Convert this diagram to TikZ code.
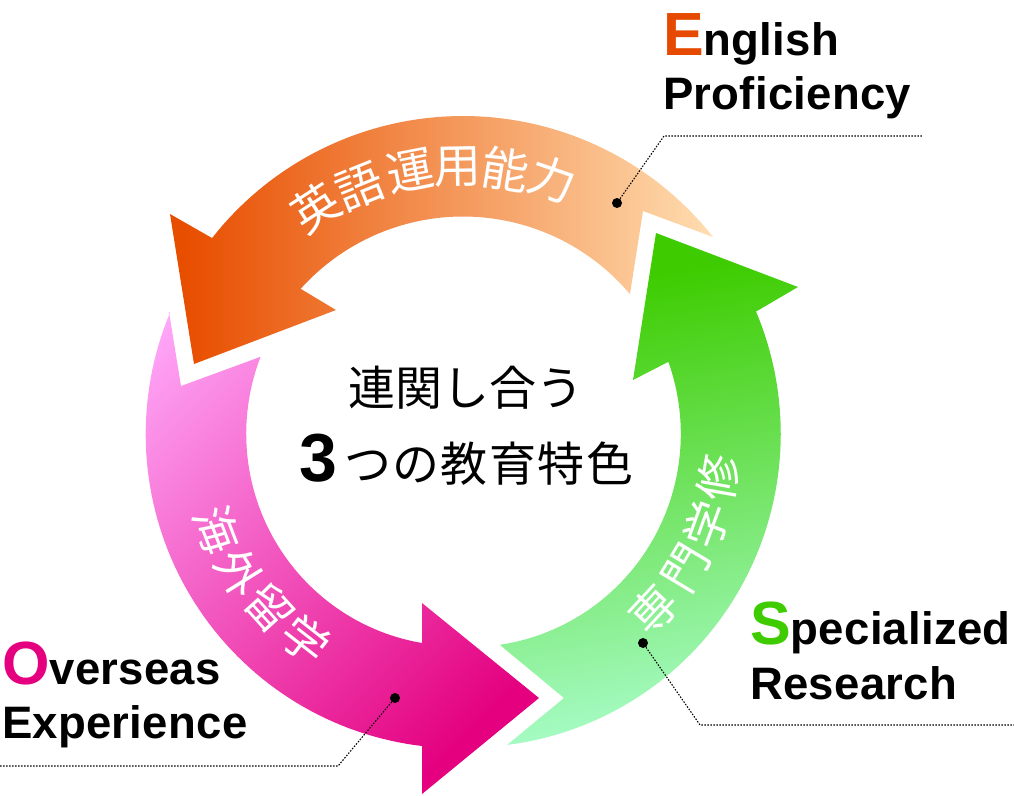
\documentclass[tikz,border=0pt]{standalone}
\usepackage{fontspec}
\setmainfont{Liberation Sans}
\newfontfamily\jp{Noto Sans CJK JP}
\newcommand\biglet{\fontsize{61}{61}\selectfont}
\definecolor{orA}{HTML}{E84E00}\definecolor{orB}{HTML}{FFDDB0}
\definecolor{grA}{HTML}{3ECC00}\definecolor{grB}{HTML}{A8FCC8}
\definecolor{mgA}{HTML}{FFA8FA}\definecolor{mgB}{HTML}{E4007F}
\pgfdeclarehorizontalshading{orshade}{900bp}{color(0bp)=(orA); color(300bp)=(orA); color(826bp)=(orB); color(1126bp)=(orB)}
\pgfdeclarehorizontalshading{grshade}{900bp}{color(0bp)=(grA); color(300bp)=(grA); color(750bp)=(grB); color(1050bp)=(grB)}
\pgfdeclarehorizontalshading{mgshade}{900bp}{color(0bp)=(mgA); color(300bp)=(mgA); color(810bp)=(mgB); color(1110bp)=(mgB)}
\tikzset{
  arctext/.style={inner sep=0pt,text=white,font=\jp\fontsize{#1}{#1}\selectfont},
  label text/.style={inner sep=0pt,anchor=base west,font=\bfseries\fontsize{45.5}{45.5}\selectfont\addfontfeature{LetterSpace=0.6}},
  center text/.style={inner sep=0pt,anchor=base west,font=\jp\fontsize{47}{47}\selectfont},
  leader/.style={draw=black,line width=1.1pt,dash pattern=on 1.5pt off 1.5pt},
  leaderdot/.style={circle,fill=black,inner sep=0pt,minimum size=10pt},
  gradfill/.style n args={3}{path picture={\node[inner sep=0pt,rotate=#3] (grad#1) at (#2) {\pgfuseshading{#1}};}}
}
\begin{document}
\begin{tikzpicture}[x=1pt,y=-1pt]
\useasboundingbox (0,0) rectangle (1014,795);
% orange arrow
\path[gradfill={orshade}{449,290}{0}]
  (170,214) -- (212,238)
  -- plot[domain=218.1:321.6,samples=70] ({463+319*cos(\x)},{435+319*sin(\x)})
  -- (713,237) -- (643,211) -- (630,294)
  -- plot[domain=319.8:222,samples=70] ({463+218.5*cos(\x)},{435+218.5*sin(\x)})
  -- (301,289) -- (336,310) -- (194,364) -- cycle;
% green arrow
\path[gradfill={grshade}{640,506}{-80}]
  (656,233) -- (798,287) -- (757,311)
  -- plot[domain=-22.9:81.9,samples=70] ({463+(318-5*((\x+22.9)/104.8)^2)*cos(\x)},{435+(318-5*((\x+22.9)/104.8)^2)*sin(\x)})
  -- (507,745) -- (564,698) -- (500,645)
  -- plot[domain=80:-19.6,samples=70] ({463+(218-5*((\x+19.6)/99.6)^2)*cos(\x)},{435+(218-5*((\x+19.6)/99.6)^2)*sin(\x)})
  -- (668,362) -- (633,380) -- cycle;
% magenta arrow
\path[gradfill={mgshade}{358,484}{-45}]
  (539,698) -- (422,794) -- (422,746)
  -- plot[domain=97.5:202.7,samples=70] ({463+(317.5-3.8*((202.7-\x)/105.2)^2)*cos(\x)},{435+(317.5-3.8*((202.7-\x)/105.2)^2)*sin(\x)})
  -- (169,312) -- (181,386) -- (260,357)
  -- plot[domain=201:101.2,samples=70] ({463+(217-5*((201-\x)/99.8)^2)*cos(\x)},{435+(217-5*((201-\x)/99.8)^2)*sin(\x)})
  -- (422,643) -- (422,603) -- cycle;
% arc texts
\node[arctext=47,rotate=33] (o1) at (316,208) {英};
\node[arctext=47,rotate=22] (o2) at (360,187) {語};
\node[arctext=47,rotate=11] (o3) at (410,171) {運};
\node[arctext=47,rotate=1] (o4) at (458,167) {用};
\node[arctext=47,rotate=-9] (o5) at (506,169) {能};
\node[arctext=47,rotate=-19] (o6) at (552,179) {力};
\node[arctext=46,rotate=47] (g1) at (653,610) {専};
\node[arctext=46,rotate=59] (g2) at (686,568) {門};
\node[arctext=46,rotate=70] (g3) at (707,525) {学};
\node[arctext=46,rotate=80] (g4) at (718,478) {修};
\node[arctext=46,rotate=-69] (m1) at (217,530) {海};
\node[arctext=46,rotate=-58] (m2) at (240,573) {外};
\node[arctext=46,rotate=-48] (m3) at (270,608) {留};
\node[arctext=46,rotate=-38] (m4) at (305,640) {学};
% centre text
\node[center text] (c1) at (348,405) {連関し合う};
\node[center text] (c2) at (299,481) {{\fontspec{Liberation Sans Bold}\fontsize{68}{68}\selectfont 3}\hspace{7pt}\addfontfeature{LetterSpace=3}つの教育特色};
% labels
\node[label text] (e1) at (663,55) {{\biglet\color[HTML]{E64A00}E}nglish};
\node[label text] (e2) at (663,109) {Proficiency};
\node[label text] (s1) at (750,644) {{\biglet\color[HTML]{3ECC00}S}pecialized};
\node[label text] (s2) at (750,699) {Research};
\node[label text] (v1) at (2,684) {{\biglet\color[HTML]{E4007F}O}verseas};
\node[label text] (v2) at (2,738) {Experience};
% leaders
\node[leaderdot] (de) at (617,203) {};
\coordinate (ke) at (664,136);
\coordinate (ee) at (923,136);
\draw[leader] (de) -- (ke) -- (ee);
\node[leaderdot] (ds) at (643,643) {};
\coordinate (ks) at (700,725);
\coordinate (es) at (1014,725);
\draw[leader] (ds) -- (ks) -- (es);
\node[leaderdot] (dv) at (395,698) {};
\coordinate (kv) at (338,766);
\coordinate (ev) at (0,766);
\draw[leader] (dv) -- (kv) -- (ev);
\end{tikzpicture}
\end{document}
